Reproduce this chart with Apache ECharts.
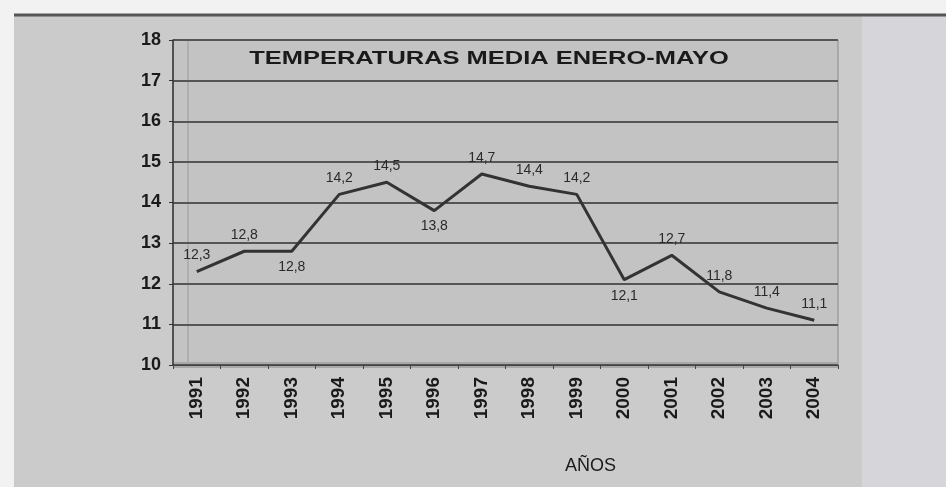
<!DOCTYPE html>
<html>
<head>
<meta charset="utf-8">
<script src="https://cdn.jsdelivr.net/npm/echarts@6/dist/echarts.min.js"></script>
<style>
html, body { margin: 0; padding: 0; background: #fff; }
#mychart { width: 946px; height: 487px; }
</style>
</head>
<body>
<div id="mychart"></div>
<script>
var years = ['1991', '1992', '1993', '1994', '1995', '1996', '1997', '1998', '1999', '2000', '2001', '2002', '2003', '2004'];
var temps = [12.3, 12.8, 12.8, 14.2, 14.5, 13.8, 14.7, 14.4, 14.2, 12.1, 12.7, 11.8, 11.4, 11.1];
// etiquetas que van debajo del punto
var below = ['1993', '1996', '2000'];

var myChart = echarts.init(document.getElementById('mychart'));

var points = [];
for (var i = 0; i < temps.length; i++) {
	points.push({
		value: temps[i],
		label: { position: below.indexOf(years[i]) >= 0 ? 'bottom' : 'top' }
	});
}

option = {
	backgroundColor: '#cbcbcb',
	animation: false,
	graphic: [
		// franja blanca izquierda
		{ type: 'rect', left: 0, top: 0, shape: { width: 14, height: 487 }, style: { fill: '#f2f2f2' } },
		{ type: 'rect', left: 0, top: 0, shape: { width: 946, height: 14 }, style: { fill: '#f2f2f2' } },
		// zona derecha mas clara
		{ type: 'rect', left: 862, top: 16, shape: { width: 84, height: 471 }, style: { fill: '#d6d6da' } },
		// marco superior
		{ type: 'line', shape: { x1: 14, y1: 15, x2: 946, y2: 15 }, style: { stroke: '#555', lineWidth: 3 } },
		// pared 3D
		{ type: 'line', shape: { x1: 188, y1: 40, x2: 188, y2: 362 }, style: { stroke: '#9a9a9a', lineWidth: 1 } },
		{ type: 'rect', shape: { x: 174, y: 362, width: 664, height: 6 }, style: { fill: '#a8a8a8' } },
		// titulo
		{
			type: 'text',
			x: 489,
			y: 59,
			scaleX: 1.34,
			style: {
				text: 'TEMPERATURAS MEDIA ENERO-MAYO',
				align: 'center',
				verticalAlign: 'middle',
				font: 'bold 19px "Liberation Sans"',
				fill: '#1a1a1a'
			}
		}
	],
	grid: {
		left: 173,
		right: 108,
		top: 40,
		bottom: 122,
		show: true,
		backgroundColor: '#c3c3c3',
		borderColor: '#8a8a8a',
		borderWidth: 1
	},
	xAxis: {
		type: 'category',
		data: years,
		boundaryGap: true,
		name: 'AÑOS',
		nameLocation: 'middle',
		nameGap: 92,
		nameTextStyle: {
			fontFamily: 'Liberation Sans',
			fontSize: 18,
			color: '#1a1a1a',
			padding: [0, 0, 0, 170]
		},
		axisLine: { lineStyle: { color: '#444', width: 1 } },
		axisTick: { show: true, alignWithLabel: false, length: 4, lineStyle: { color: '#444' } },
		axisLabel: {
			rotate: 90,
			margin: 12,
			fontFamily: 'Liberation Sans',
			fontWeight: 'bold',
			fontSize: 19,
			color: '#1a1a1a'
		}
	},
	yAxis: {
		type: 'value',
		min: 10,
		max: 18,
		interval: 1,
		axisLine: { show: true, lineStyle: { color: '#333', width: 1.5 } },
		axisTick: { show: true, length: 4, lineStyle: { color: '#333' } },
		axisLabel: {
			margin: 12,
			fontFamily: 'Liberation Sans',
			fontWeight: 'bold',
			fontSize: 18,
			color: '#1a1a1a'
		},
		splitLine: { show: true, lineStyle: { color: '#555', width: 2 } }
	},
	series: [{
		type: 'line',
		data: points,
		symbol: 'circle',
		symbolSize: 2,
		showSymbol: true,
		showAllSymbol: true,
		itemStyle: { color: 'rgba(0,0,0,0)', borderWidth: 0 },
		lineStyle: { color: '#333', width: 3 },
		label: {
			show: true,
			distance: 8,
			fontFamily: 'Liberation Sans',
			fontSize: 14,
			color: '#2a2a2a',
			formatter: function (p) {
				return p.value.toFixed(1).replace('.', ',');
			}
		}
	}]
};
myChart.setOption(option);
</script>
</body>
</html>
